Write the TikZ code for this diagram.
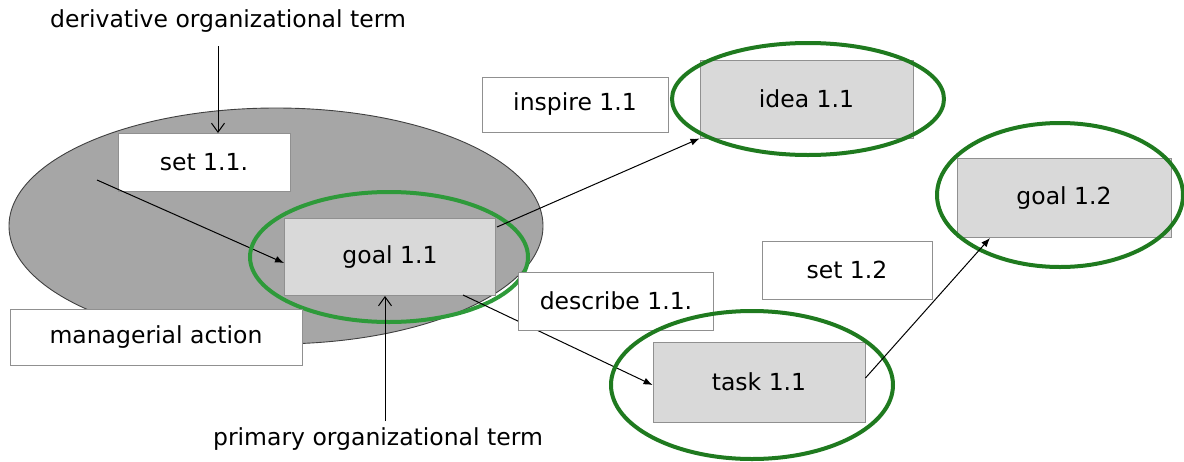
\documentclass[tikz,border=0pt]{standalone}
\usepackage{fontspec}
\setmainfont{DejaVu Sans}
\usetikzlibrary{arrows.meta,shapes.geometric}
\definecolor{boxgray}{HTML}{D9D9D9}
\definecolor{boxline}{HTML}{909090}
\definecolor{bigfill}{HTML}{A6A6A6}
\definecolor{ringgreen}{HTML}{1F7A1F}
\definecolor{ringlight}{HTML}{2E9A3A}
\tikzset{
  lbl/.style={font=\fontsize{23.5}{28}\selectfont, inner sep=0pt},
  whitebox/.style={lbl, draw=boxline, fill=white, line width=0.9pt, anchor=center},
  graybox/.style={lbl, draw=boxline, fill=boxgray, line width=0.9pt, anchor=center},
  ring/.style={ellipse, draw=ringgreen, line width=4pt, inner sep=0pt},
  openarr/.style={-{Straight Barb[length=9pt,width=13pt]}, line width=1pt},
  fillarr/.style={-{Latex[length=9pt,width=7pt]}, line width=1pt},
}
\begin{document}
\begin{tikzpicture}[x=1pt,y=-1pt]
\useasboundingbox (0,0) rectangle (1184,461);
% big managerial ellipse
\node[ellipse, draw=black!75, fill=bigfill, line width=0.9pt, minimum width=534pt, minimum height=236pt, inner sep=0pt] (big) at (276,226) {};
% top label and arrow
\node[lbl] (deriv) at (228,21) {derivative organizational term};
\coordinate (dtop) at (218,46);
\node[whitebox, minimum width=172pt, minimum height=58pt] (set11) at (204,162) {set 1.1.};
\draw[openarr] (dtop) -- (218,133);
% goal 1.1
\coordinate (setstart) at (97,180);
\node[graybox, minimum width=211pt, minimum height=77pt] (goal11) at (390,257) {goal 1.1};
\draw[fillarr] (setstart) -- (goal11.west |- 0,263);
\node[ring, draw=ringlight, minimum width=278pt, minimum height=130pt] (r1) at (389,257) {};
% managerial action
\node[whitebox, minimum width=292pt, minimum height=56pt] (man) at (156,337) {managerial action};
% primary term
\node[lbl] (prim) at (378,439) {primary organizational term};
\coordinate (pstart) at (385,421);
\draw[openarr] (pstart) -- (385,296);
% inspire & idea
\node[whitebox, minimum width=186pt, minimum height=55pt] (insp) at (575,104.5) {inspire 1.1};
\node[graybox, minimum width=213pt, minimum height=78pt] (idea) at (806.5,99) {idea 1.1};
\node[ring, minimum width=272pt, minimum height=112pt] (r2) at (808,99) {};
\draw[fillarr] (497,227) -- (idea.south west);
% goal 1.2
\node[graybox, minimum width=214pt, minimum height=79pt] (goal12) at (1064,198) {goal 1.2};
\node[ring, minimum width=246pt, minimum height=144pt] (r3) at (1060,195) {};
% task, describe, set 1.2
\node[graybox, minimum width=212pt, minimum height=80pt] (task) at (759,382) {task 1.1};
\draw[fillarr] (463,295) -- (task.west |- 0,385);
\node[whitebox, minimum width=195pt, minimum height=58pt] (desc) at (616,301) {describe 1.1.};
\node[whitebox, minimum width=170pt, minimum height=58pt] (set12) at (847,270) {set 1.2};
\node[ring, minimum width=282pt, minimum height=148pt] (r4) at (752,385) {};
\draw[fillarr] (task.east |- 0,378) -- (990,238);
\end{tikzpicture}
\end{document}
